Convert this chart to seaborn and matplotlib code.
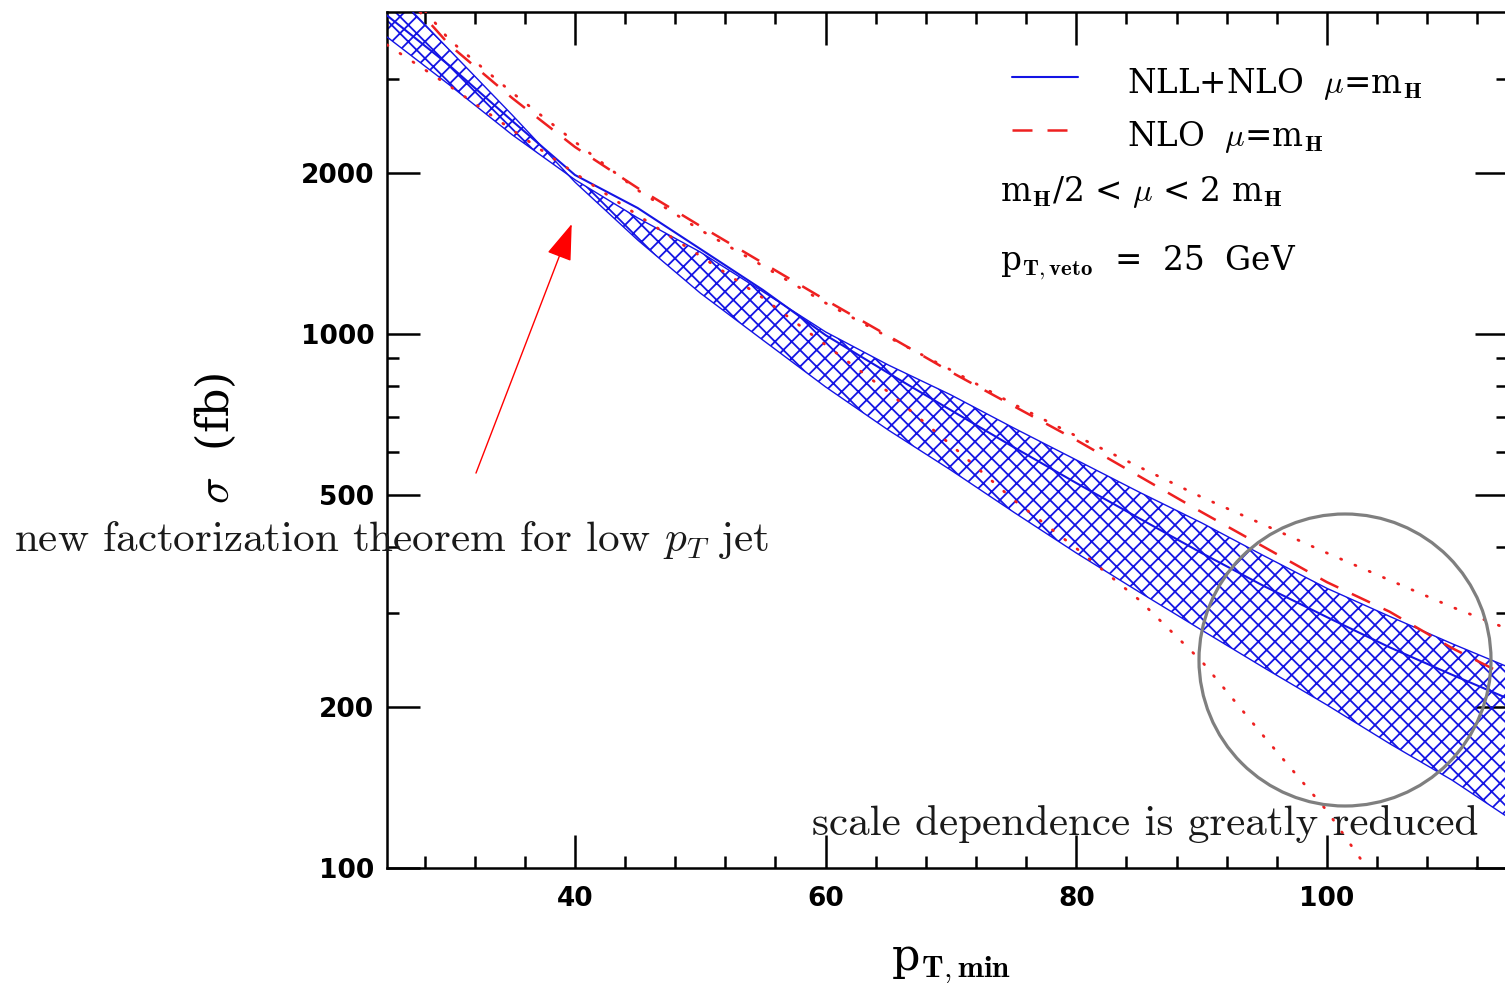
import matplotlib
matplotlib.use("Agg")
import matplotlib.pyplot as plt
from matplotlib.patches import Ellipse
from matplotlib.ticker import FixedLocator, MultipleLocator, NullFormatter, FixedFormatter
import seaborn as sns

# ---- data: Higgs + jet cross section vs. minimum jet pT (fb) ----
pt_min = [25, 30, 35, 40, 45, 50, 55, 60, 65, 70, 75, 80, 85, 90, 95, 100, 105, 110, 115]

# NLL+NLO, mu = mH, and the two edges of the scale band
nll_central = [3950, 3180, 2505, 1985, 1722, 1443, 1209, 995, 845, 720, 614, 526, 452, 389, 337, 295, 259, 230, 205]
nll_scale_a = [4500, 3400, 2570, 1925, 1500, 1193, 974, 796, 661, 556, 464, 389, 329, 279, 237, 202, 171, 146, 122]
nll_scale_b = [3600, 2925, 2360, 1945, 1650, 1424, 1200, 1009, 875, 769, 667, 581, 506, 443, 384, 334, 296, 263, 235]

# fixed-order NLO, mu = mH, and the two scale variations
nlo_central = [4700, 3475, 2765, 2240, 1877, 1593, 1358, 1158, 992, 849, 733, 633, 542, 464, 399, 343, 302, 258, 225]
nlo_scale_hi = [4900, 3550, 2830, 2290, 1860, 1566, 1341, 1143, 987, 856, 739, 644, 564, 495, 439, 389, 346, 308, 277]
pt_min_lo = [25, 30, 35, 40, 45, 50, 55, 60, 65, 70, 75, 80, 85, 90, 95, 100, 105]
nlo_scale_lo = [3480, 2913, 2410, 2000, 1670, 1400, 1168, 954, 779, 620, 489, 397, 318, 244, 176, 128, 87]

y_major = [100, 200, 500, 1000, 2000]
y_major_labels = ["100", "200", "500", "1000", "2000"]
y_minor = [300, 400, 600, 700, 800, 900, 3000]
x_major = [40, 60, 80, 100]

# ---- style ----
sns.set_theme(style="ticks")
plt.rcParams.update({
    "font.family": ["DejaVu Serif"],
    "mathtext.fontset": "cm",
    "hatch.linewidth": 1.3,
    "hatch.color": "#1010e8",
    "axes.linewidth": 1.8,
    "axes.edgecolor": "black",
    "xtick.color": "black",
    "ytick.color": "black",
    "text.color": "black",
})

BLUE = "#1414e4"
RED = "#ee2020"

W, H = 1505, 983
fig = plt.figure(figsize=(W / 100, H / 100), dpi=100)
fig.patch.set_facecolor("white")
ax = fig.add_axes([387 / W, (H - 868) / H, 1121 / W, 856 / H])
ax.set_facecolor("white")

# NLL+NLO scale band (hatched) with its edges
ax.fill_between(pt_min, nll_scale_a, nll_scale_b, facecolor="none",
                edgecolor=BLUE, hatch="xx", linewidth=0, zorder=2)
sns.lineplot(x=pt_min, y=nll_scale_a, ax=ax, color=BLUE, linewidth=1.0, zorder=3)
sns.lineplot(x=pt_min, y=nll_scale_b, ax=ax, color=BLUE, linewidth=1.0, zorder=3)
sns.lineplot(x=pt_min, y=nll_central, ax=ax, color=BLUE, linewidth=1.5, zorder=4)

# NLO central (dashed) and scale variations (dotted)
sns.lineplot(x=pt_min, y=nlo_central, ax=ax, color=RED, linewidth=1.8, zorder=4)
ax.lines[-1].set_dashes((8, 6))
for xs, ys in ((pt_min, nlo_scale_hi), (pt_min_lo, nlo_scale_lo)):
    sns.lineplot(x=xs, y=ys, ax=ax, color=RED, linewidth=2.0, zorder=4)
    ln = ax.lines[-1]
    ln.set_dashes((0.4, 5.2))
    ln.set_dash_capstyle("round")

# ---- axes ----
ax.set_yscale("log")
ax.set_xlim(25, 114.45)
ax.set_ylim(100, 4009)
ax.set_xlabel("")
ax.set_ylabel("")
ax.xaxis.set_major_locator(FixedLocator(x_major))
ax.xaxis.set_minor_locator(MultipleLocator(4))
ax.yaxis.set_major_locator(FixedLocator(y_major))
ax.yaxis.set_major_formatter(FixedFormatter(y_major_labels))
ax.yaxis.set_minor_locator(FixedLocator(y_minor))
ax.yaxis.set_minor_formatter(NullFormatter())
ax.tick_params(which="both", direction="in", top=True, right=True, width=1.8)
ax.tick_params(which="major", length=23.5, labelsize=19,
               labelfontfamily="DejaVu Sans")
ax.tick_params(axis="y", which="major", pad=9)
ax.tick_params(axis="x", which="major", pad=13)
ax.tick_params(which="minor", length=8.5)
for lab in ax.get_xticklabels() + ax.get_yticklabels():
    lab.set_fontweight("bold")
for side in ("left", "right", "top", "bottom"):
    ax.spines[side].set_visible(True)
    ax.spines[side].set_color("black")

# ---- legend block ----
def axfrac(px, py):
    return (px - 387) / 1121, (868 - py) / 856

x0, y0 = axfrac(1012, 77)
x1, _ = axfrac(1078, 77)
ax.plot([x0, x1], [y0, y0], transform=ax.transAxes, color=BLUE, lw=1.5)
x0, y1 = axfrac(1012, 130)
x1, _ = axfrac(1075, 130)
leg_dash = ax.plot([x0, x1], [y1, y1], transform=ax.transAxes, color=RED, lw=1.8)[0]
leg_dash.set_dashes((8, 6))

LEG_FS = 23.5
tx, ty = axfrac(1127, 93)
ax.text(tx, ty, r"NLL+NLO  $\mu$=m$_{\mathbf{H}}$", transform=ax.transAxes,
        fontsize=LEG_FS, va="baseline")
tx, ty = axfrac(1127, 146)
ax.text(tx, ty, r"NLO  $\mu$=m$_{\mathbf{H}}$", transform=ax.transAxes,
        fontsize=LEG_FS, va="baseline")
tx, ty = axfrac(1000, 201)
ax.text(tx, ty, r"m$_{\mathbf{H}}$/2 < $\mu$ < 2 m$_{\mathbf{H}}$", transform=ax.transAxes,
        fontsize=LEG_FS, va="baseline")
tx, ty = axfrac(1000, 270)
ax.text(tx, ty, r"p$_{\mathbf{T,veto}}$  =  25  GeV", transform=ax.transAxes,
        fontsize=LEG_FS, va="baseline")

# ---- axis titles ----
fig.text(215 / W, 1 - 438 / H, r"$\sigma$  (fb)", rotation=90, ha="center",
         va="center", fontsize=32)
fig.text(951 / W, 1 - 970 / H, r"p$_{\mathbf{T,min}}$", ha="center",
         va="baseline", fontsize=32)

# ---- annotations ----
ax.annotate("", xy=(39.74, 1607), xytext=(32.1, 549),
            arrowprops=dict(arrowstyle="-|>,head_length=1.15,head_width=0.4",
                            mutation_scale=20, color="red", lw=1.0,
                            shrinkA=0, shrinkB=0), zorder=6)
fig.text(14 / W, 1 - 551 / H, r"new factorization theorem for low $p_T$ jet",
         family="cmr10", fontsize=31, va="baseline", color="#1a1a1a")
fig.text(812 / W, 1 - 835 / H, "scale dependence is greatly reduced",
         family="cmr10", fontsize=31, va="baseline", color="#1a1a1a")

cx, cy = axfrac(1345, 660)
ax.add_patch(Ellipse((cx, cy), 292 / 1121, 292 / 856, transform=ax.transAxes,
                     fill=False, edgecolor="#7f7f7f", linewidth=2.3,
                     clip_on=False, zorder=7))

fig.savefig("out.png", dpi=100)
